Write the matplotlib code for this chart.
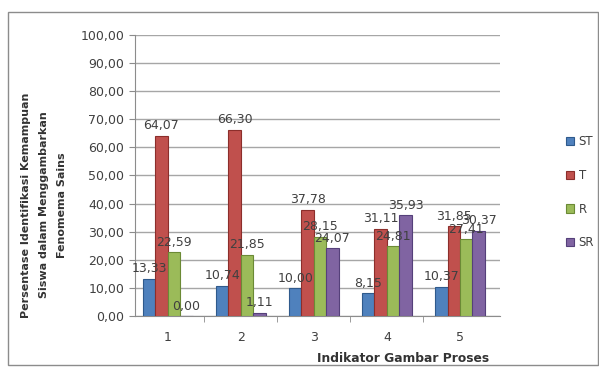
import numpy as np
import matplotlib.pyplot as plt
from matplotlib.patches import Rectangle

categories = ["1", "2", "3", "4", "5"]
series_names = ["ST", "T", "R", "SR"]
st = [13.33, 10.74, 10.00, 8.15, 10.37]
t = [64.07, 66.30, 37.78, 31.11, 31.85]
r = [22.59, 21.85, 28.15, 24.81, 27.41]
sr = [0.00, 1.11, 24.07, 35.93, 30.37]
yticks = [0, 10, 20, 30, 40, 50, 60, 70, 80, 90, 100]

colors = ["#4F81BD", "#C0504D", "#9BBB59", "#8064A2"]
edges = ["#2F5A8C", "#8C2E2B", "#6B8A35", "#55407A"]

fig = plt.figure(figsize=(5.99, 3.67), dpi=100)
ax = fig.add_axes([0.225, 0.139, 0.61, 0.766])

# outer chart border
fig.patches.append(Rectangle((0.013, 0.005), 0.985, 0.962, transform=fig.transFigure,
                             fill=False, edgecolor="#8C8C8C", linewidth=1.0))

x = np.arange(len(categories))
width = 0.17
for i, (vals, name) in enumerate(zip([st, t, r, sr], series_names)):
    pos = x + (i - 1.5) * width
    bars = ax.bar(pos, vals, width, color=colors[i], edgecolor=edges[i],
                  linewidth=0.8, label=name, zorder=3)
    for b, v in zip(bars, vals):
        ax.text(b.get_x() + b.get_width() / 2, v + 1.2, f"{v:.2f}".replace(".", ","),
                ha="center", va="bottom", fontsize=9, color="#404040", zorder=4)

ax.set_xlim(-0.45, len(categories) - 0.45)
ax.set_ylim(0, 100)
ax.set_yticks(yticks)
ax.set_yticklabels([f"{v:.2f}".replace(".", ",") for v in yticks], fontsize=9, color="#404040")
ax.set_xticks(x)
ax.set_xticklabels(categories, fontsize=9, color="#404040")
ax.set_xticks(np.arange(0.5, len(categories) - 0.5), minor=True)
ax.tick_params(axis="x", which="major", length=0, pad=11)
ax.tick_params(axis="x", which="minor", length=4, color="#8C8C8C")
ax.tick_params(axis="y", length=4, color="#8C8C8C")
ax.grid(axis="y", color="#A6A6A6", linewidth=1.0, zorder=0)
for s in ["top", "right"]:
    ax.spines[s].set_visible(False)
for s in ["left", "bottom"]:
    ax.spines[s].set_color("#8C8C8C")

ax.set_ylabel("Persentase Identifikasi Kemampuan\nSiswa dalam Menggambarkan\nFenomema Sains",
              fontsize=8, fontweight="bold", color="#333333", linespacing=2.0)
ax.yaxis.set_label_coords(-0.186, 0.395)
ax.set_xlabel("Indikator Gambar Proses", fontsize=8.8, fontweight="bold", color="#333333")
ax.xaxis.set_label_coords(0.734, -0.128)

ax.legend(loc="center left", bbox_to_anchor=(1.15, 0.44), frameon=False,
          fontsize=8.5, handlelength=0.7, handleheight=0.7, labelspacing=1.75,
          handletextpad=0.4, labelcolor="#404040")

fig.savefig("out.png", dpi=100)
